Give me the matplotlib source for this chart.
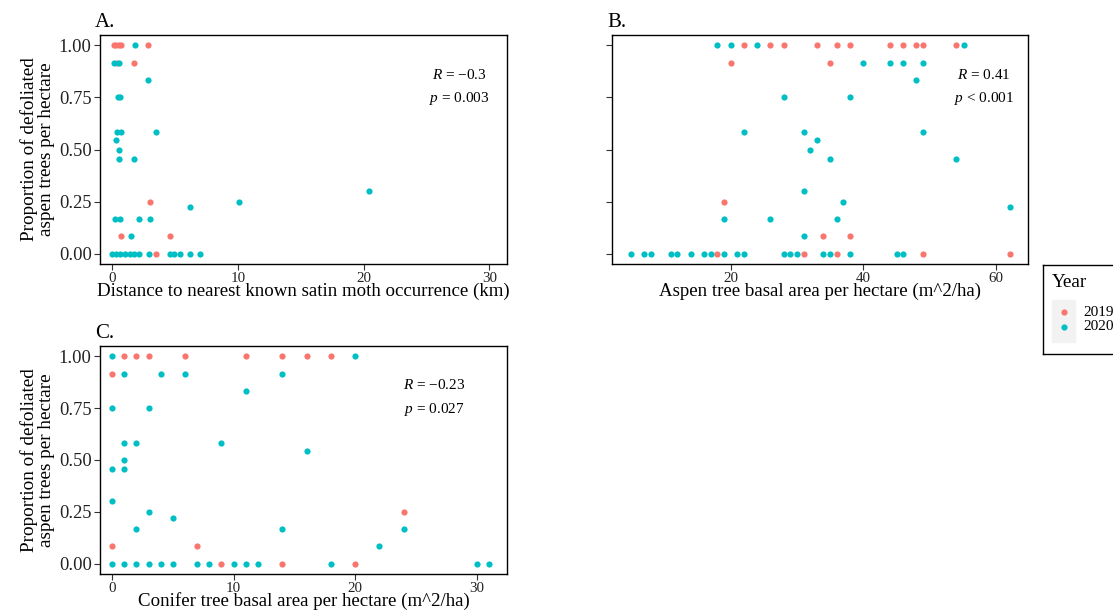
import matplotlib
matplotlib.use("Agg")
import matplotlib.pyplot as plt
from matplotlib.patches import Rectangle

plt.rcParams['font.family'] = ['Liberation Serif', 'DejaVu Serif']
plt.rcParams['mathtext.fontset'] = 'custom'
plt.rcParams['mathtext.rm'] = 'Liberation Serif'
plt.rcParams['mathtext.it'] = 'Liberation Serif:italic'

RED = '#F8766D'
TEAL = '#00BFC4'

# panel A: distance to nearest satin moth occurrence (km)
dist_2019 = [0.1, 0.3, 0.5, 0.7, 2.8, 0.35, 1.75, 3.0, 0.66, 4.57, 3.45]
prop_dist_2019 = [1.0, 1.0, 1.0, 1.0, 1.0, 0.917, 0.917, 0.25, 0.083, 0.083, 0.0]
dist_2020 = [1.8, 0.1, 0.55, 2.8, 0.45, 0.65, 0.35, 0.7, 3.45, 0.27, 0.53, 0.53, 1.75,
             20.4, 10.1, 6.2, 0.2, 0.6, 2.1, 3.0, 1.46,
             0.0, 0.3, 0.6, 1.0, 1.4, 1.7, 2.1, 2.9, 4.57, 4.9, 5.4, 6.2, 7.0]
prop_dist_2020 = [1.0, 0.917, 0.917, 0.833, 0.75, 0.75, 0.583, 0.583, 0.583, 0.545, 0.5, 0.455, 0.455,
                  0.30, 0.25, 0.222, 0.167, 0.167, 0.167, 0.167, 0.083,
                  0, 0, 0, 0, 0, 0, 0, 0, 0, 0, 0, 0, 0]

# panel B: aspen basal area (m^2/ha)
aspen_2019 = [22, 26, 28, 33, 36, 38, 44, 46, 48, 49, 54, 20, 35, 19, 34, 38, 18, 31, 36, 49, 62.1]
prop_aspen_2019 = [1, 1, 1, 1, 1, 1, 1, 1, 1, 1, 1, 0.917, 0.917, 0.25, 0.083, 0.083, 0, 0, 0, 0, 0]
aspen_2020 = [18, 20, 24, 55.1, 40, 44, 46, 49, 48, 28, 38, 22, 31, 49, 33, 32, 35, 54, 31, 37, 62.1,
              19, 26, 36, 31,
              5, 7, 8, 11, 12, 14, 16, 17, 19, 21, 22, 28, 29, 30, 34, 35, 38, 45, 46]
prop_aspen_2020 = [1, 1, 1, 1, 0.917, 0.917, 0.917, 0.917, 0.833, 0.75, 0.75, 0.583, 0.583, 0.583,
                   0.545, 0.5, 0.455, 0.455, 0.30, 0.25, 0.222,
                   0.167, 0.167, 0.167, 0.083,
                   0, 0, 0, 0, 0, 0, 0, 0, 0, 0, 0, 0, 0, 0, 0, 0, 0, 0, 0]

# panel C: conifer basal area (m^2/ha)
conif_2019 = [1, 2, 3, 6, 11, 14, 16, 18, 0, 24, 0, 7, 9, 14, 20]
prop_conif_2019 = [1, 1, 1, 1, 1, 1, 1, 1, 0.917, 0.25, 0.083, 0.083, 0, 0, 0]
conif_2020 = [0, 20, 1, 4, 6, 14, 11, 0, 3, 1, 2, 9, 16, 1, 0, 1, 0, 3, 5, 2, 14, 24, 22,
              0, 1, 2, 3, 4, 5, 7, 8, 10, 11, 12, 18, 30, 31]
prop_conif_2020 = [1, 1, 0.917, 0.917, 0.917, 0.917, 0.833, 0.75, 0.75, 0.583, 0.583, 0.583, 0.545,
                   0.5, 0.455, 0.455, 0.30, 0.25, 0.222, 0.167, 0.167, 0.167, 0.083,
                   0, 0, 0, 0, 0, 0, 0, 0, 0, 0, 0, 0, 0, 0]

stats = {
    'A': ('$R$ = $-$0.3', '$p$ = 0.003'),
    'B': ('$R$ = 0.41', '$p$ < 0.001'),
    'C': ('$R$ = $-$0.23', '$p$ = 0.027'),
}

W, H = 1113, 611
fig = plt.figure(figsize=(W / 100, H / 100), dpi=100)


def px_axes(left, top, right, bottom):
    return fig.add_axes([left / W, 1 - bottom / H, (right - left) / W, (bottom - top) / H])


axA = px_axes(100, 35, 507, 264)
axB = px_axes(612, 35, 1028, 264)
axC = px_axes(100, 346, 507, 574)

ylab = 'Proportion of defoliated\naspen trees per hectare'
panels = [
    (axA, 'A.', dist_2019, prop_dist_2019, dist_2020, prop_dist_2020,
     'Distance to nearest known satin moth occurrence (km)', (-0.98, 31.4), [0, 10, 20, 30], 27.6),
    (axB, 'B.', aspen_2019, prop_aspen_2019, aspen_2020, prop_aspen_2020,
     'Aspen tree basal area per hectare (m^2/ha)', (2.15, 64.8), [20, 40, 60], 58.2),
    (axC, 'C.', conif_2019, prop_conif_2019, conif_2020, prop_conif_2020,
     'Conifer tree basal area per hectare (m^2/ha)', (-1.0, 32.5), [0, 10, 20, 30], 26.5),
]

for ax, title, x19, y19, x20, y20, xlab, xlim, xt, tx in panels:
    ax.scatter(x19, y19, s=20, color=RED, linewidths=0, zorder=3)
    ax.scatter(x20, y20, s=20, color=TEAL, linewidths=0, zorder=3)
    ax.set_xlim(*xlim)
    ax.set_ylim(-0.05, 1.05)
    ax.set_xticks(xt)
    ax.set_yticks([0, 0.25, 0.5, 0.75, 1.0])
    ax.set_yticklabels(['0.00', '0.25', '0.50', '0.75', '1.00'])
    ax.tick_params(length=4, width=0.8, colors='#333333', labelcolor='#222222')
    ax.tick_params(axis='x', labelsize=10.8, pad=1.5)
    ax.tick_params(axis='y', labelsize=13.3, pad=2)
    for sp in ax.spines.values():
        sp.set_linewidth(1.0)
    ax.set_xlabel(xlab, fontsize=13.6, labelpad=-1.5)
    ax.text(-0.012, 1.012, title, transform=ax.transAxes, fontsize=15, ha='left', va='bottom')
    r_txt, p_txt = stats[title[0]]
    ax.text(tx, 0.86, r_txt, fontsize=11, ha='center', va='center')
    ax.text(tx, 0.745, p_txt, fontsize=11, ha='center', va='center')

axA.set_ylabel(ylab, fontsize=13.8, labelpad=3, linespacing=1.0)
axC.set_ylabel(ylab, fontsize=13.8, labelpad=3, linespacing=1.0)
axB.set_yticklabels([])

# legend
lg = px_axes(1043, 265, 1125, 354)
lg.set_xlim(1043, 1125)
lg.set_ylim(354, 265)
lg.set_xticks([])
lg.set_yticks([])
for sp in lg.spines.values():
    sp.set_linewidth(1.0)
lg.add_patch(Rectangle((1052, 300), 23, 42, color='#F2F2F2', zorder=1))
lg.text(1052, 283, 'Year', fontsize=13.8, ha='left', va='center')
for yy, col, lab in [(312, RED, '2019'), (327, TEAL, '2020')]:
    lg.scatter([1063.5], [yy], s=20, color=col, linewidths=0, zorder=3)
    lg.text(1083, yy, lab, fontsize=11, ha='left', va='center')

fig.savefig('out.png', dpi=100)
